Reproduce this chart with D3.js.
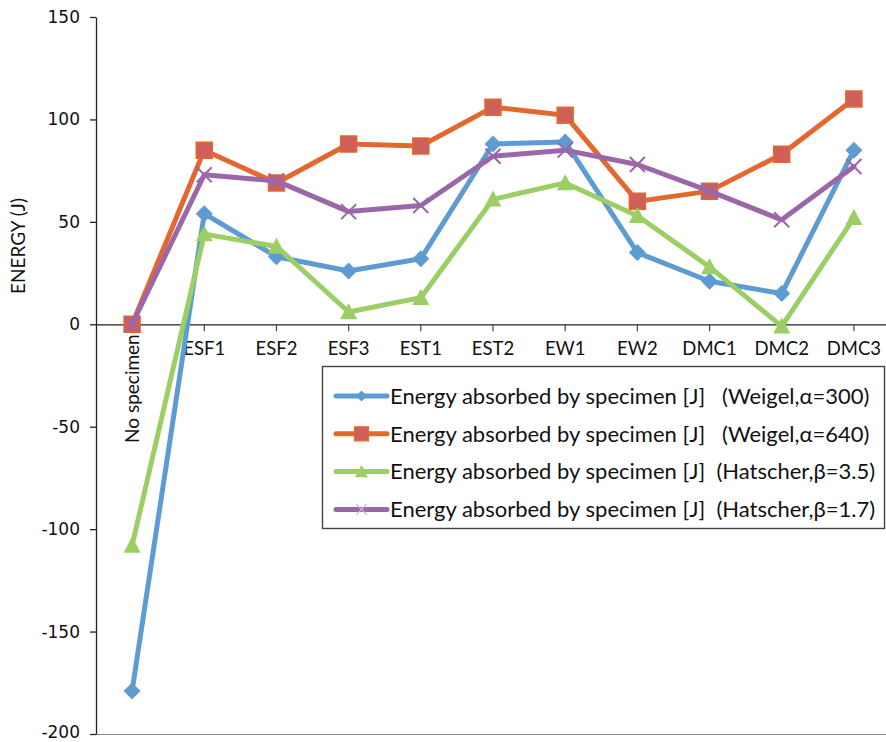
<!DOCTYPE html>
<html>
<head>
<meta charset="utf-8">
<script src="https://cdn.jsdelivr.net/npm/d3@7/dist/d3.min.js"></script>
<style>
  html, body { margin: 0; padding: 0; background: #fff; }
  svg { display: block; }
  .legend-label { white-space: pre; }
</style>
</head>
<body>
<svg id="chart" width="886" height="742"></svg>
<script>
// Specimen categories along the x axis
const categories = ["No specimen", "ESF1", "ESF2", "ESF3", "EST1", "EST2", "EW1", "EW2", "DMC1", "DMC2", "DMC3"];

// Absorbed energy per specimen [J] for each model
const weigel300   = [-179, 54, 33, 26, 32, 88, 89, 35, 21, 15, 85];
const weigel640   = [0, 85, 69, 88, 87, 106, 102, 60, 65, 83, 110];
const hatscher35  = [-108, 44, 38, 6, 13, 61, 69, 53, 28, -1, 52];
const hatscher17  = [0, 73, 70, 55, 58, 82, 85, 78, 65, 51, 77];

const yTicks = [-200, -150, -100, -50, 0, 50, 100, 150];

const seriesNames = [
  "Energy absorbed by specimen [J]   (Weigel,\u03b1=300)",
  "Energy absorbed by specimen [J]   (Weigel,\u03b1=640)",
  "Energy absorbed by specimen [J]  (Hatscher,\u03b2=3.5)",
  "Energy absorbed by specimen [J]  (Hatscher,\u03b2=1.7)"
];

const series = [
  { name: seriesNames[0], values: weigel300,  line: "#5f9bd3", fill: "#5f9bd3", stroke: "none",    marker: "diamond" },
  { name: seriesNames[1], values: weigel640,  line: "#e3682f", fill: "#cf5f5b", stroke: "#e3682f", marker: "square" },
  { name: seriesNames[2], values: hatscher35, line: "#9bcf66", fill: "#9bcf66", stroke: "none",    marker: "triangle" },
  { name: seriesNames[3], values: hatscher17, line: "#9b67a8", fill: "none",    stroke: "#9b67a8", marker: "cross" }
];

const svg = d3.select("#chart");
const plotLeft = 96, plotRight = 890, plotTop = 17, plotBottom = 734;

const x = d3.scaleBand().domain(categories).range([plotLeft, plotRight]).padding(0);
const y = d3.scaleLinear().domain([-200, 150]).range([plotBottom, plotTop]);
const cx = c => x(c) + x.bandwidth() / 2;

// Marker outlines centred on the origin; r is the half-size
function markerPath(type, r) {
  switch (type) {
    case "diamond":  return `M0,${-r}L${r},0L0,${r}L${-r},0Z`;
    case "square":   return `M${-r},${-r}H${r}V${r}H${-r}Z`;
    case "triangle": return `M0,${-r * 1.05}L${r},${r * 0.85}L${-r},${r * 0.85}Z`;
    case "cross":    return `M${-r},${-r}L${r},${r}M${r},${-r}L${-r},${r}`;
  }
}
const markerSize = { diamond: 8.5, square: 8, triangle: 8.5, cross: 7.5 };

// Faint bottom border of the plot area
svg.append("line")
  .attr("x1", plotLeft).attr("x2", 886)
  .attr("y1", plotBottom + 0.5).attr("y2", plotBottom + 0.5)
  .attr("stroke", "#8a8a8a").attr("stroke-width", 1.2);

// Y axis
const yAxis = svg.append("g")
  .attr("transform", `translate(${plotLeft},0)`)
  .call(d3.axisLeft(y).tickValues(yTicks).tickSize(6).tickPadding(10).tickSizeOuter(0)
    .tickFormat(d => String(d)));
yAxis.select(".domain").attr("stroke", "#222").attr("stroke-width", 1.3);
yAxis.selectAll(".tick line").attr("stroke", "#222").attr("stroke-width", 1.3);
yAxis.selectAll(".tick text")
  .attr("font-family", "DejaVu Sans, Verdana, sans-serif")
  .attr("font-size", 17)
  .attr("fill", "#111")
  .attr("dy", d => d === -200 ? "0.18em" : "0.32em");

// Category axis sitting on the zero line
const xAxis = svg.append("g")
  .attr("transform", `translate(0,${y(0)})`)
  .call(d3.axisBottom(x).tickSize(7).tickSizeOuter(0).tickFormat(""));
xAxis.select(".domain").attr("stroke", "#222").attr("stroke-width", 1.3).attr("d", `M${plotLeft},0.5H886`);
xAxis.selectAll(".tick line").attr("stroke", "#444").attr("stroke-width", 1.2);

// Category labels
svg.append("g").selectAll("text")
  .data(categories.slice(1))
  .join("text")
  .attr("x", d => cx(d))
  .attr("y", y(0) + 31)
  .attr("text-anchor", "middle")
  .attr("font-family", "Lato, sans-serif")
  .attr("font-size", 18.5)
  .attr("fill", "#111")
  .text(d => d);

svg.append("text")
  .attr("transform", `translate(${cx(categories[0]) + 7},${y(0) + 10}) rotate(-90)`)
  .attr("text-anchor", "end")
  .attr("font-family", "Lato, sans-serif")
  .attr("font-size", 19)
  .attr("fill", "#111")
  .text(categories[0]);

// Y axis title
svg.append("text")
  .attr("transform", `translate(25,246) rotate(-90)`)
  .attr("text-anchor", "middle")
  .attr("font-family", "Lato, sans-serif")
  .attr("font-size", 19)
  .attr("fill", "#111")
  .text("ENERGY (J)");

// Series lines and markers
const lineGen = d3.line().x((d, i) => cx(categories[i])).y(d => y(d));

series.forEach(s => {
  const g = svg.append("g");
  g.append("path")
    .attr("d", lineGen(s.values))
    .attr("fill", "none")
    .attr("stroke", s.line)
    .attr("stroke-width", 5)
    .attr("stroke-linejoin", "round")
    .attr("stroke-linecap", "round");
  g.selectAll("path.m")
    .data(s.values)
    .join("path")
    .attr("class", "m")
    .attr("transform", (d, i) => `translate(${cx(categories[i])},${y(d)})`)
    .attr("d", markerPath(s.marker, markerSize[s.marker]))
    .attr("fill", s.fill)
    .attr("stroke", s.stroke)
    .attr("stroke-width", s.marker === "cross" ? 2 : 1.5);
});

// Legend
const lg = svg.append("g");
lg.append("rect")
  .attr("x", 322.5).attr("y", 366.5)
  .attr("width", 562).attr("height", 162)
  .attr("fill", "#fff")
  .attr("stroke", "#444").attr("stroke-width", 1.4);

const legendMarker = { diamond: 5.5, square: 7, triangle: 6.5, cross: 5.5 };
series.forEach((s, i) => {
  const ry = 396 + i * 37.8;
  lg.append("line")
    .attr("x1", 336).attr("x2", 387)
    .attr("y1", ry).attr("y2", ry)
    .attr("stroke", s.line).attr("stroke-width", 5)
    .attr("stroke-linecap", "round");
  lg.append("path")
    .attr("transform", `translate(361.5,${ry})`)
    .attr("d", markerPath(s.marker, legendMarker[s.marker]))
    .attr("fill", s.fill)
    .attr("stroke", s.marker === "cross" ? "#c9b3d3" : s.stroke)
    .attr("stroke-width", 1.2);
  lg.append("text")
    .attr("class", "legend-label")
    .attr("x", 390).attr("y", ry)
    .attr("dy", "0.35em")
    .attr("font-family", "Lato, sans-serif")
    .attr("font-size", 22)
    .attr("fill", "#111")
    .text(s.name);
});
</script>
</body>
</html>
